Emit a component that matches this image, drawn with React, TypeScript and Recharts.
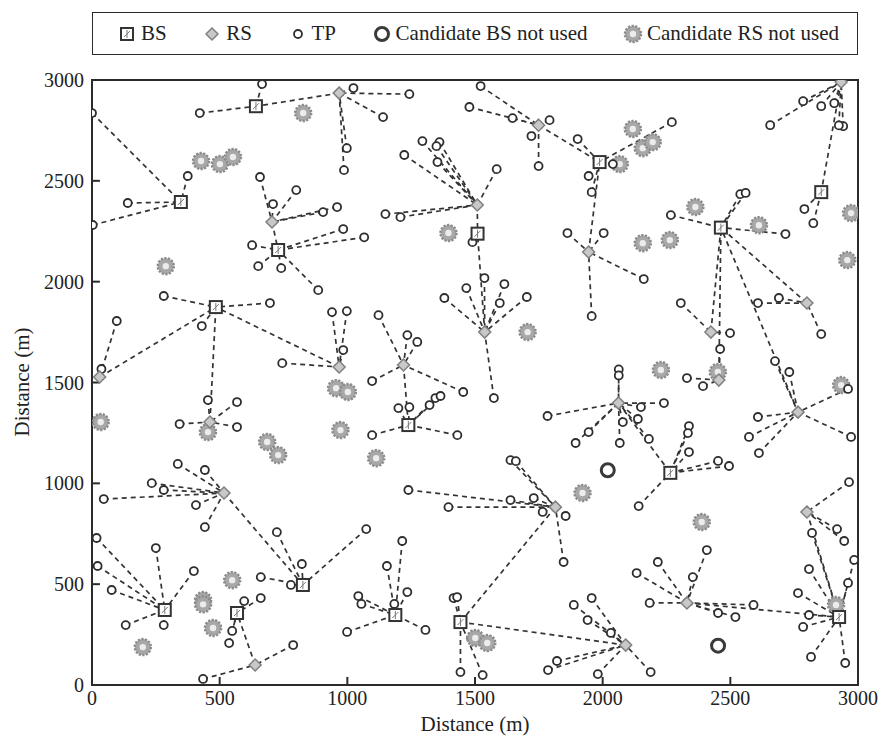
import React from "react";
import {
  ScatterChart,
  Scatter,
  XAxis,
  YAxis,
  ReferenceArea,
  ReferenceLine,
} from "recharts";

/* ------------------------------------------------------------------ */
/*  Data (metres)                                                      */
/* ------------------------------------------------------------------ */

const TICKS = [0, 500, 1000, 1500, 2000, 2500, 3000];

// base stations actually used
const BS: [number, number][] = [
  [642, 2870], [348, 2395], [729, 2157], [1510, 2238], [1988, 2593],
  [2463, 2268], [2856, 2444], [485, 1874], [1239, 1289], [2265, 1052],
  [285, 372], [568, 357], [826, 496], [1188, 347], [1443, 312], [2926, 337],
];

// relay stations used: x, y, index of serving BS
const RS: [number, number, number][] = [
  [968, 2935, 0], [705, 2296, 2], [1749, 2776, 4], [1509, 2380, 3],
  [1945, 2147, 4], [2934, 2990, 6], [968, 1577, 7], [30, 1527, 7],
  [1538, 1750, 3], [1220, 1587, 8], [2424, 1750, 5], [2455, 1512, 5],
  [2800, 1894, 5], [2765, 1353, 5], [2062, 1398, 9], [517, 952, 12],
  [639, 99, 11], [1815, 882, 14], [2090, 198, 14], [2330, 407, 15],
  [2800, 858, 15], [462, 1304, 7],
];

// test points: x, y, serving node ("B" = base station, "R" = relay)
const TP: [number, number, string][] = [
  [666, 2980, "B0"], [422, 2836, "B0"],
  [0, 2836, "B1"], [375, 2524, "B1"], [140, 2390, "B1"], [3, 2281, "B1"],
  [658, 2519, "R1"], [800, 2454, "R1"], [709, 2385, "R1"], [905, 2345, "R1"], [960, 2370, "R1"],
  [984, 2261, "B2"], [1066, 2220, "B2"], [627, 2181, "B2"], [651, 2077, "B2"], [741, 2067, "B2"], [886, 1958, "B2"],
  [1024, 2960, "R0"], [1243, 2930, "R0"], [1140, 2816, "R0"], [998, 2662, "R0"], [987, 2553, "R0"],
  [1522, 2970, "R2"], [1478, 2866, "R2"], [1647, 2811, "R2"], [1792, 2801, "R2"], [1721, 2722, "R2"], [1749, 2573, "R2"],
  [1902, 2707, "B4"], [1945, 2524, "B4"], [1957, 2444, "B4"], [2040, 2583, "B4"], [2271, 2791, "B4"],
  [1862, 2241, "R4"], [2004, 2241, "R4"], [1957, 1829, "R4"], [2161, 2013, "R4"],
  [1294, 2697, "R3"], [1361, 2692, "R3"], [1349, 2672, "R3"], [1223, 2628, "R3"], [1353, 2593, "R3"],
  [1585, 2558, "R3"], [1149, 2335, "R3"], [1208, 2320, "R3"],
  [1490, 2196, "B3"],
  [1537, 2018, "R8"], [1380, 1919, "R8"], [1466, 1968, "R8"], [1615, 1988, "R8"], [1597, 1894, "R8"],
  [1703, 1924, "R8"], [1574, 1423, "R8"],
  [2656, 2776, "R5"], [2785, 2895, "R5"], [2856, 2870, "R5"], [2907, 2885, "R5"], [2942, 2771, "R5"], [2925, 2775, "R5"],
  [2790, 2360, "B6"], [2825, 2290, "B6"],
  [2267, 2330, "B5"], [2539, 2434, "B5"], [2560, 2440, "B5"], [2716, 2236, "B5"],
  [2306, 1894, "R10"], [2499, 1745, "R10"],
  [2460, 1666, "R11"], [2330, 1522, "R11"], [2393, 1482, "R11"],
  [2608, 1894, "R12"], [2690, 1919, "R12"], [2856, 1740, "R12"],
  [2675, 1606, "R13"], [2731, 1552, "R13"], [2608, 1329, "R13"], [2573, 1230, "R13"], [2612, 1150, "R13"],
  [2973, 1230, "R13"], [2961, 1468, "R13"],
  [2063, 1565, "R14"], [2063, 1535, "R14"], [2240, 1398, "R14"], [2150, 1378, "R14"], [2079, 1304, "R14"],
  [2138, 1319, "R14"], [2067, 1200, "R14"], [2181, 1220, "R14"], [1784, 1334, "R14"], [1945, 1254, "R14"],
  [1894, 1200, "R14"],
  [2338, 1284, "B9"], [2334, 1249, "B9"], [2338, 1155, "B9"], [2452, 1111, "B9"], [2495, 1086, "B9"], [2141, 887, "B9"],
  [940, 1849, "R6"], [998, 1854, "R6"], [984, 1661, "R6"], [745, 1596, "R6"],
  [1122, 1834, "R9"], [1235, 1735, "R9"], [1274, 1701, "R9"], [1097, 1507, "R9"], [1454, 1453, "R9"],
  [1243, 1378, "B8"], [1200, 1373, "B8"], [1322, 1388, "B8"], [1345, 1423, "B8"], [1365, 1433, "B8"],
  [1097, 1239, "B8"], [1431, 1239, "B8"],
  [1639, 1115, "R17"], [1660, 1110, "R17"], [1239, 967, "R17"], [1396, 882, "R17"], [1639, 917, "R17"],
  [1730, 927, "R17"], [1765, 858, "R17"], [1855, 838, "R17"], [1847, 610, "R17"],
  [281, 1929, "B7"], [697, 1894, "B7"], [430, 1780, "B7"],
  [97, 1805, "R7"], [37, 1567, "R7"],
  [454, 1413, "R21"], [568, 1403, "R21"], [343, 1294, "R21"], [568, 1279, "R21"],
  [336, 1096, "R15"], [442, 1066, "R15"], [234, 1001, "R15"], [281, 967, "R15"], [46, 922, "R15"],
  [407, 892, "R15"], [442, 783, "R15"],
  [724, 758, "B12"], [822, 600, "B12"], [661, 535, "B12"], [779, 496, "B12"], [1074, 773, "B12"],
  [999, 263, "B13"], [1215, 714, "B13"], [1155, 590, "B13"], [1235, 461, "B13"], [1043, 441, "B13"],
  [1055, 402, "B13"], [1184, 402, "B13"], [1306, 273, "B13"],
  [18, 729, "B10"], [22, 590, "B10"], [77, 471, "B10"], [250, 679, "B10"], [399, 565, "B10"],
  [132, 297, "B10"], [281, 297, "B10"],
  [596, 416, "B11"], [661, 431, "B11"], [549, 268, "B11"], [537, 208, "B11"],
  [788, 198, "R16"], [435, 30, "R16"],
  [1416, 431, "B14"], [1430, 436, "B14"], [1443, 64, "B14"], [1530, 49, "B14"],
  [1887, 397, "R18"], [1957, 431, "R18"], [1941, 322, "R18"], [1786, 74, "R18"], [1821, 119, "R18"],
  [1981, 54, "R18"], [2032, 258, "R18"], [2188, 64, "R18"],
  [2184, 407, "R19"], [2133, 555, "R19"], [2216, 610, "R19"], [2353, 535, "R19"], [2408, 669, "R19"],
  [2452, 357, "R19"], [2520, 337, "R19"], [2591, 397, "R19"],
  [2808, 347, "B15"], [2785, 288, "B15"], [2765, 456, "B15"], [2808, 575, "B15"], [2816, 139, "B15"],
  [2950, 109, "B15"], [2961, 506, "B15"], [2985, 620, "B15"], [2820, 754, "B15"],
  [2965, 1006, "R20"], [2918, 773, "R20"], [2946, 714, "R20"],
];

const CAND_BS: [number, number][] = [[2020, 1065], [2452, 195]];

const CAND_RS: [number, number][] = [
  [827, 2836], [427, 2598], [501, 2583], [552, 2618], [289, 2077], [1396, 2241],
  [2118, 2757], [2157, 2662], [2196, 2692], [2067, 2583], [2363, 2370], [2157, 2191],
  [2263, 2206], [2612, 2280], [2973, 2340], [2958, 2107], [34, 1304], [956, 1472],
  [1002, 1453], [454, 1254], [686, 1205], [729, 1140], [973, 1264], [1706, 1750],
  [1113, 1125], [2228, 1562], [2451, 1552], [2934, 1487], [549, 520], [435, 421],
  [435, 400], [474, 283], [199, 188], [1501, 233], [1548, 208], [1921, 952],
  [2388, 808], [2914, 397],
];

/* ------------------------------------------------------------------ */
/*  Derived series                                                     */
/* ------------------------------------------------------------------ */

const toPts = (arr: number[][]) => arr.map(([x, y]) => ({ x, y }));

function nodeOf(id: string) {
  const idx = Number(id.slice(1));
  const n = id[0] === "B" ? BS[idx] : RS[idx];
  return { x: n[0], y: n[1] };
}

const links: { x: number; y: number }[][] = [
  ...RS.map(([x, y, b]) => [{ x, y }, { x: BS[b][0], y: BS[b][1] }]),
  ...TP.map(([x, y, p]) => [{ x, y }, nodeOf(p)]),
];

const FONT = "'Liberation Serif', 'DejaVu Serif', serif";
const INK = "#2b2b2b";

/* ------------------------------------------------------------------ */
/*  Marker shapes                                                      */
/* ------------------------------------------------------------------ */

const BsShape = ({ cx, cy }: any) => (
  <g>
    <rect x={cx - 6} y={cy - 6} width={12} height={12} fill="#fff" stroke="#333" strokeWidth={2} />
    <path d={`M${cx - 3},${cy + 3} L${cx + 3},${cy - 3} M${cx},${cy - 4} V${cy + 4}`} stroke="#777" strokeWidth={1} />
  </g>
);

const RsShape = ({ cx, cy }: any) => (
  <path
    d={`M${cx},${cy - 6} L${cx + 6},${cy} L${cx},${cy + 6} L${cx - 6},${cy} Z`}
    fill="#c8c8c8"
    stroke="#808080"
    strokeWidth={1.5}
  />
);

const TpShape = ({ cx, cy }: any) => (
  <circle cx={cx} cy={cy} r={4} fill="#fff" stroke="#2e2e2e" strokeWidth={1.8} />
);

const CandBsShape = ({ cx, cy }: any) => (
  <circle cx={cx} cy={cy} r={6.5} fill="#fff" stroke="#3a3a3a" strokeWidth={3} />
);

const CandRsShape = ({ cx, cy }: any) => (
  <g>
    <circle cx={cx} cy={cy} r={8} fill="#a8a8a8" stroke="#8c8c8c" strokeWidth={2.5} strokeDasharray="2.2 1.4" />
    <circle cx={cx} cy={cy} r={3.2} fill="#ececec" />
  </g>
);

const NoShape = () => <g />;

/* ------------------------------------------------------------------ */
/*  Legend                                                             */
/* ------------------------------------------------------------------ */

const LEGEND = [
  { label: "BS", Shape: BsShape },
  { label: "RS", Shape: RsShape },
  { label: "TP", Shape: TpShape },
  { label: "Candidate BS not used", Shape: CandBsShape },
  { label: "Candidate RS not used", Shape: CandRsShape },
];

function Legend() {
  return (
    <div
      style={{
        position: "absolute",
        left: 92,
        top: 12,
        width: 766,
        height: 43,
        boxSizing: "border-box",
        border: `1.5px solid ${INK}`,
        display: "flex",
        alignItems: "center",
        justifyContent: "space-between",
        padding: "0 18px 0 24px",
        fontFamily: FONT,
        fontSize: 21,
        color: "#222",
        background: "#fff",
      }}
    >
      {LEGEND.map(({ label, Shape }) => (
        <span key={label} style={{ display: "flex", alignItems: "center", gap: 4 }}>
          <svg width={20} height={20}>
            <Shape cx={10} cy={10} />
          </svg>
          {label}
        </span>
      ))}
    </div>
  );
}

/* ------------------------------------------------------------------ */
/*  Chart                                                              */
/* ------------------------------------------------------------------ */

export default function App() {
  const tickStyle = { fill: "#222", fontSize: 20, fontFamily: FONT };
  return (
    <div style={{ position: "absolute", left: 0, top: 0, width: 878, height: 740, background: "#fff" }}>
      <Legend />
      <ScatterChart width={878} height={740} margin={{ top: 80, right: 20, bottom: 0, left: 0 }}>
        <XAxis
          type="number"
          dataKey="x"
          domain={[0, 3000]}
          ticks={TICKS}
          tickLine={false}
          tickMargin={0}
          axisLine={{ stroke: INK, strokeWidth: 2 }}
          tick={tickStyle}
          height={55}
          allowDataOverflow
        />
        <YAxis
          type="number"
          dataKey="y"
          domain={[0, 3000]}
          ticks={TICKS}
          tickLine={false}
          axisLine={{ stroke: INK, strokeWidth: 2 }}
          tick={tickStyle}
          width={92}
          allowDataOverflow
        />
        <ReferenceArea x1={0} x2={3000} y1={0} y2={3000} fill="none" stroke={INK} strokeWidth={2} />
        {TICKS.slice(1, -1).map((t) => (
          <ReferenceLine key={`xt${t}`} segment={[{ x: t, y: 0 }, { x: t, y: 40 }]} stroke={INK} strokeWidth={2} />
        ))}
        {TICKS.slice(1, -1).map((t) => (
          <ReferenceLine key={`yt${t}`} segment={[{ x: 0, y: t }, { x: 31, y: t }]} stroke={INK} strokeWidth={2} />
        ))}
        {links.map((seg, i) => (
          <Scatter
            key={`l${i}`}
            data={seg}
            line={{ stroke: "#333", strokeWidth: 1.7, strokeDasharray: "5 4" }}
            shape={NoShape}
            isAnimationActive={false}
          />
        ))}
        <Scatter data={toPts(CAND_RS)} shape={CandRsShape} isAnimationActive={false} />
        <Scatter data={toPts(CAND_BS)} shape={CandBsShape} isAnimationActive={false} />
        <Scatter data={toPts(TP)} shape={TpShape} isAnimationActive={false} />
        <Scatter data={toPts(RS)} shape={RsShape} isAnimationActive={false} />
        <Scatter data={toPts(BS)} shape={BsShape} isAnimationActive={false} />
      </ScatterChart>
      <div
        style={{
          position: "absolute",
          left: 92,
          width: 766,
          top: 713,
          lineHeight: "22px",
          textAlign: "center",
          fontFamily: FONT,
          fontSize: 21,
          color: "#222",
        }}
      >
        Distance (m)
      </div>
      <div
        style={{
          position: "absolute",
          left: 22,
          top: 382,
          transform: "translate(-50%, -50%) rotate(-90deg)",
          whiteSpace: "nowrap",
          fontFamily: FONT,
          fontSize: 21,
          color: "#222",
        }}
      >
        Distance (m)
      </div>
    </div>
  );
}
